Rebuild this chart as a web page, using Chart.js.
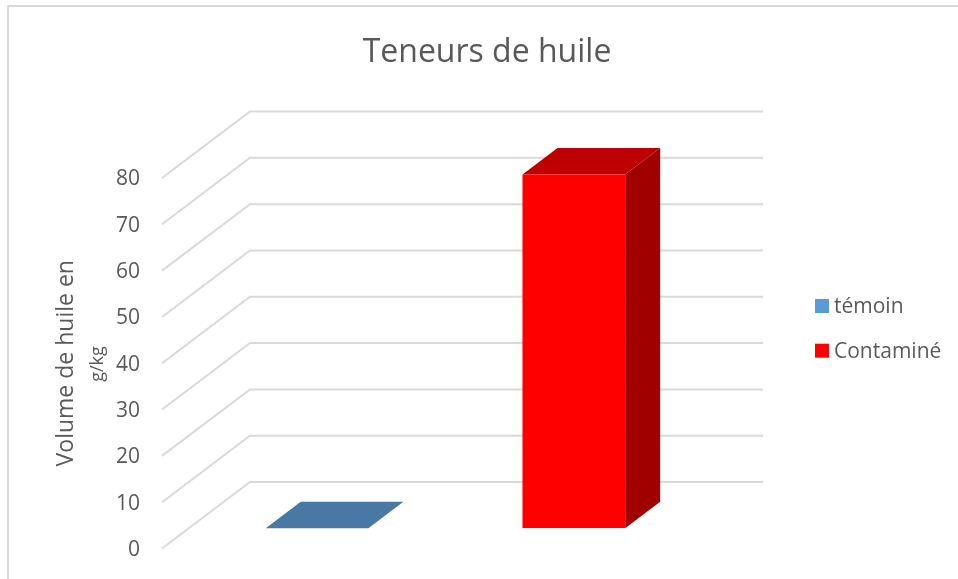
<!DOCTYPE html>
<html>
<head>
<meta charset="utf-8">
<title>Teneurs de huile</title>
<style>
  html, body { margin: 0; padding: 0; background: #fff; }
  #wrap { position: relative; width: 958px; height: 579px; }
</style>
<script src="https://cdn.jsdelivr.net/npm/chart.js@4/dist/chart.umd.js"></script>
</head>
<body>
<div id="wrap"><canvas id="chart"></canvas></div>
<script>
const seriesNames = ['témoin', 'Contaminé'];
const seriesValues = [0, 76.4];
const frontColors = ['#5B9BD5', '#FF0000'];
const topColors = ['#4A78A4', '#BF0000'];
const sideColors = ['#3A5F85', '#A00000'];
const yMax = 80;
const yStep = 10;

const FONT = '"Open Sans", sans-serif';
const TEXT = '#595959';
const GRID = '#D9D9D9';

// oblique projection: wall depth, bar offset from the front edge, bar depth
const wall = { dx: 88, dy: 66.5, right: 763 };
const barShift = { dx: 26.7, dy: 20.2 };
const barDepth = { dx: 35, dy: 26.5 };

function poly(ctx, color, pts) {
  ctx.fillStyle = color;
  ctx.beginPath();
  pts.forEach(([x, y], i) => (i ? ctx.lineTo(x, y) : ctx.moveTo(x, y)));
  ctx.closePath();
  ctx.fill();
}

/** Chart frame, left and top edges only */
const framePlugin = {
  id: 'frame',
  beforeDraw(chart) {
    const { ctx } = chart;
    ctx.save();
    ctx.strokeStyle = GRID;
    ctx.lineWidth = 2;
    ctx.beginPath();
    ctx.moveTo(8, 579);
    ctx.lineTo(8, 6);
    ctx.lineTo(958, 6);
    ctx.stroke();
    ctx.restore();
  },
};

/** Fake 3D: wall gridlines, bar side and top faces, front faces moved into depth */
const depthPlugin = {
  id: 'depth',
  beforeDatasetsDraw(chart) {
    const { ctx, scales: { y }, chartArea } = chart;
    ctx.save();
    ctx.strokeStyle = GRID;
    ctx.lineWidth = 2;
    y.ticks.forEach((tick) => {
      const py = y.getPixelForValue(tick.value);
      ctx.beginPath();
      ctx.moveTo(chartArea.left, py);
      ctx.lineTo(chartArea.left + wall.dx, py - wall.dy);
      ctx.lineTo(wall.right, py - wall.dy);
      ctx.stroke();
    });
    ctx.translate(barShift.dx, -barShift.dy);
    chart.data.datasets.forEach((ds, i) => {
      const bar = chart.getDatasetMeta(i).data[0];
      const x0 = bar.x - bar.width / 2;
      const x1 = bar.x + bar.width / 2;
      const { dx, dy } = barDepth;
      if (bar.base - bar.y > 0.5) {
        poly(ctx, sideColors[i], [[x1, bar.y], [x1 + dx, bar.y - dy], [x1 + dx, bar.base - dy], [x1, bar.base]]);
      }
      poly(ctx, topColors[i], [[x0, bar.y], [x1, bar.y], [x1 + dx, bar.y - dy], [x0 + dx, bar.y - dy]]);
    });
  },
  afterDatasetsDraw(chart) {
    chart.ctx.restore();
  },
};

/** Places the title, the second axis line and the legend where the reference has them */
const layoutPlugin = {
  id: 'placement',
  afterLayout(chart) {
    const title = chart.titleBlock;
    const shift = 487 - (title.left + title.right) / 2;
    title.left += shift;
    title.right += shift;
  },
  afterDraw(chart) {
    const { ctx } = chart;
    ctx.save();
    ctx.fillStyle = TEXT;
    ctx.textBaseline = 'middle';

    ctx.save();
    ctx.translate(98, 364);
    ctx.rotate(-Math.PI / 2);
    ctx.textAlign = 'center';
    ctx.font = `18px ${FONT}`;
    ctx.fillText('g/kg', 0, 0);
    ctx.restore();

    ctx.font = `21px ${FONT}`;
    ctx.textAlign = 'left';
    chart.data.datasets.forEach((ds, i) => {
      const cy = 306 + i * 44.7;
      ctx.fillStyle = frontColors[i];
      ctx.fillRect(815, cy - 7, 14, 14);
      ctx.fillStyle = TEXT;
      ctx.fillText(ds.label, 834, cy + 1);
    });
    ctx.restore();
  },
};

new Chart(document.getElementById('chart'), {
  type: 'bar',
  data: {
    labels: [''],
    datasets: seriesNames.map((name, i) => ({
      label: name,
      data: [seriesValues[i]],
      backgroundColor: frontColors[i],
      borderWidth: 0,
      barPercentage: 0.4,
      categoryPercentage: 1,
    })),
  },
  options: {
    responsive: true,
    maintainAspectRatio: false,
    animation: false,
    layout: { padding: { left: 0, right: 282.5, top: 0, bottom: 30.5 } },
    plugins: {
      legend: { display: false },
      tooltip: { enabled: false },
      title: {
        display: true,
        text: 'Teneurs de huile',
        color: TEXT,
        font: { family: FONT, size: 32, weight: 'normal' },
        padding: { top: 34, bottom: 105.6 },
      },
    },
    scales: {
      x: { display: false },
      y: {
        min: 0,
        max: yMax,
        afterFit(scale) { scale.width = 162; },
        grid: { display: false },
        border: { display: false },
        ticks: {
          stepSize: yStep,
          padding: 14,
          labelOffset: 1.5,
          color: TEXT,
          font: { family: FONT, size: 21 },
        },
        title: {
          display: true,
          text: 'Volume de huile en',
          color: TEXT,
          font: { family: FONT, size: 23 },
          padding: { top: 53, bottom: 0 },
        },
      },
    },
  },
  plugins: [framePlugin, depthPlugin, layoutPlugin],
});
</script>
</body>
</html>
